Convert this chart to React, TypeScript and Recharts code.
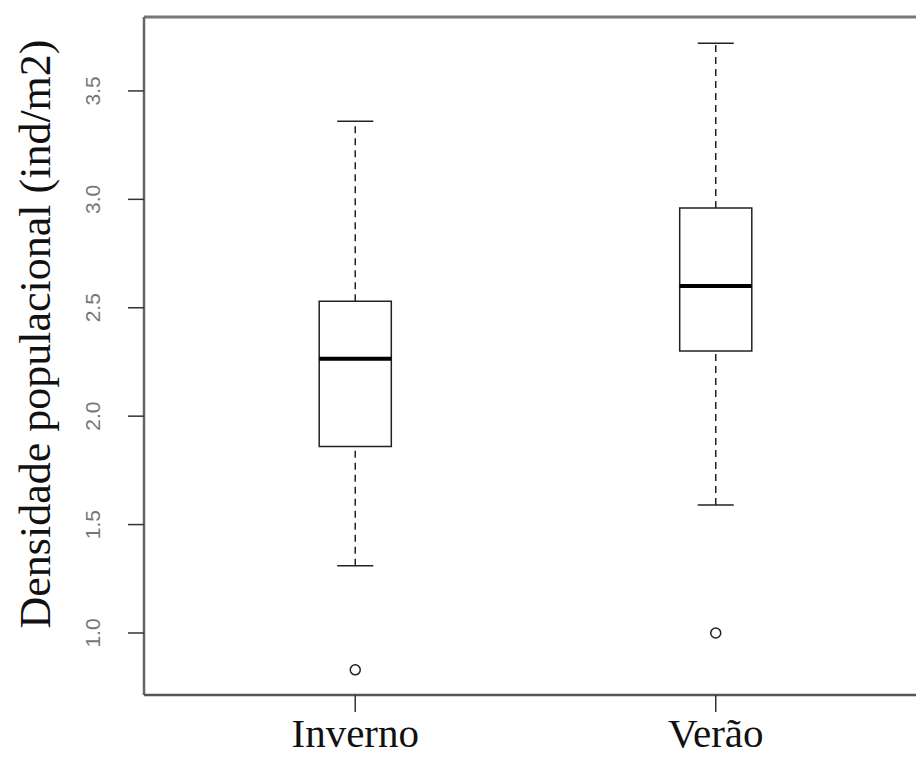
import React from 'react';
import {
  ComposedChart,
  XAxis,
  YAxis,
  Scatter,
  ReferenceArea,
  ReferenceLine,
} from 'recharts';

// Boxplot summary per season
const categories = ['Inverno', 'Verão'];
const whiskerLow = [1.31, 1.59];
const quartile1 = [1.86, 2.3];
const medians = [2.265, 2.6];
const quartile3 = [2.53, 2.96];
const whiskerHigh = [3.36, 3.72];
const outlierValues = [0.83, 1.0];
const yTicks = [1.0, 1.5, 2.0, 2.5, 3.0, 3.5];

const Y_MIN = 0.714;
const Y_MAX = 3.841;
const X_MIN = 0.414;
const X_MAX = 2.586;
const HALF_BOX = 0.1;

const outlierData = outlierValues.map((y, i) => ({ x: i + 1, y }));

const SERIF = '"Liberation Serif", "Times New Roman", serif';

const YTick = ({ x, y, payload }: any) => (
  <text
    transform={`translate(${x - 26},${y}) rotate(-90)`}
    textAnchor="middle"
    fontFamily='"Liberation Sans", Arial, sans-serif'
    fontSize={21}
    fill="#777"
  >
    {payload.value.toFixed(1)}
  </text>
);

const XTick = ({ x, y, payload }: any) => (
  <text
    x={x}
    y={y + 33}
    textAnchor="middle"
    fontFamily={SERIF}
    fontSize={41}
    fill="#111"
  >
    {categories[payload.value - 1]}
  </text>
);

const YLabel = ({ viewBox }: any) => {
  const cy = viewBox.y + viewBox.height / 2 - 22;
  return (
    <text
      transform={`translate(50,${cy}) rotate(-90)`}
      textAnchor="middle"
      fontFamily={SERIF}
      fontSize={44}
      fill="#111"
    >
      Densidade populacional (ind/m2)
    </text>
  );
};

const OpenCircle = ({ cx, cy }: any) => (
  <circle cx={cx} cy={cy} r={5} fill="none" stroke="#222" strokeWidth={1.5} />
);

export default function App() {
  return (
    <div
      style={{
        position: 'absolute',
        left: 0,
        top: 0,
        width: 916,
        height: 757,
        overflow: 'hidden',
        background: '#fff',
      }}
    >
      <ComposedChart
        width={940}
        height={757}
        margin={{ top: 17, right: 13, bottom: 0, left: 0 }}
      >
        <XAxis
          type="number"
          dataKey="x"
          domain={[X_MIN, X_MAX]}
          ticks={[1, 2]}
          interval={0}
          allowDataOverflow
          height={62}
          tickSize={17}
          axisLine={false}
          tickLine={{ stroke: '#333', strokeWidth: 1.5 }}
          tick={<XTick />}
        />
        <YAxis
          type="number"
          dataKey="y"
          domain={[Y_MIN, Y_MAX]}
          ticks={yTicks}
          interval={0}
          allowDataOverflow
          width={144}
          tickSize={16}
          axisLine={false}
          tickLine={{ stroke: '#333', strokeWidth: 1.5 }}
          tick={<YTick />}
          label={<YLabel />}
        />

        {/* plot frame: the right side falls outside the picture */}
        <ReferenceLine y={Y_MAX} stroke="#777" strokeWidth={3} />
        <ReferenceLine x={X_MIN} stroke="#666" strokeWidth={2.5} />
        <ReferenceLine y={Y_MIN} stroke="#555" strokeWidth={2.5} />

        {categories.map((c, i) => {
          const cx = i + 1;
          return (
            <React.Fragment key={c}>
              <ReferenceLine
                segment={[{ x: cx, y: quartile3[i] }, { x: cx, y: whiskerHigh[i] }]}
                stroke="#222"
                strokeWidth={1.5}
                strokeDasharray="7 5"
              />
              <ReferenceLine
                segment={[{ x: cx, y: whiskerLow[i] }, { x: cx, y: quartile1[i] }]}
                stroke="#222"
                strokeWidth={1.5}
                strokeDasharray="7 5"
              />
              <ReferenceLine
                segment={[
                  { x: cx - HALF_BOX / 2, y: whiskerHigh[i] },
                  { x: cx + HALF_BOX / 2, y: whiskerHigh[i] },
                ]}
                stroke="#222"
                strokeWidth={1.5}
              />
              <ReferenceLine
                segment={[
                  { x: cx - HALF_BOX / 2, y: whiskerLow[i] },
                  { x: cx + HALF_BOX / 2, y: whiskerLow[i] },
                ]}
                stroke="#222"
                strokeWidth={1.5}
              />
              <ReferenceArea
                x1={cx - HALF_BOX}
                x2={cx + HALF_BOX}
                y1={quartile1[i]}
                y2={quartile3[i]}
                fill="#fff"
                fillOpacity={1}
                stroke="#222"
                strokeWidth={1.5}
              />
              <ReferenceLine
                segment={[
                  { x: cx - HALF_BOX, y: medians[i] },
                  { x: cx + HALF_BOX, y: medians[i] },
                ]}
                stroke="#000"
                strokeWidth={4}
              />
            </React.Fragment>
          );
        })}

        <Scatter
          data={outlierData}
          dataKey="y"
          shape={<OpenCircle />}
          isAnimationActive={false}
        />
      </ComposedChart>
    </div>
  );
}
